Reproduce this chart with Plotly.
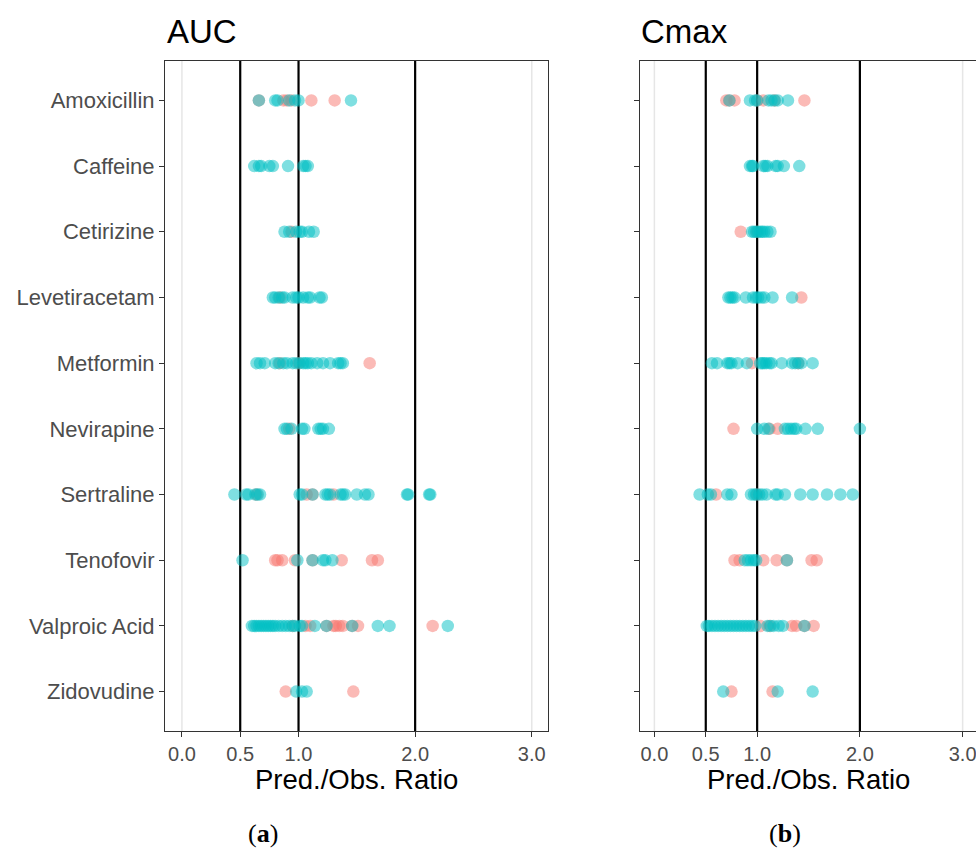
import plotly.graph_objects as go

drugs = ["Amoxicillin", "Caffeine", "Cetirizine", "Levetiracetam", "Metformin",
         "Nevirapine", "Sertraline", "Tenofovir", "Valproic Acid", "Zidovudine"]

x_ticks = [0.0, 0.5, 1.0, 2.0, 3.0]
x_ticktext = ["0.0", "0.5", "1.0", "2.0", "3.0"]
ref_lines = [0.5, 1.0, 2.0]
grid_lines = [0.0, 3.0]

# AUC panel, salmon group (per drug)
auc_red = [
    [0.66, 0.87, 0.90, 0.94, 1.11, 1.31],
    [],
    [0.94],
    [0.84],
    [0.84, 1.00, 1.61],
    [0.92],
    [0.64, 1.07, 1.12, 1.30],
    [0.80, 0.82, 0.86, 0.97, 1.12, 1.37, 1.63, 1.68],
    [0.95, 1.06, 1.10, 1.24, 1.30, 1.32, 1.35, 1.38, 1.46, 1.51, 2.15],
    [0.89, 1.47],
]
# AUC panel, teal group
auc_teal = [
    [0.66, 0.80, 0.82, 0.92, 0.97, 1.00, 1.45],
    [0.62, 0.66, 0.68, 0.75, 0.78, 0.91, 1.04, 1.06, 1.08],
    [0.88, 0.92, 0.98, 1.01, 1.03, 1.09, 1.13],
    [0.78, 0.80, 0.83, 0.86, 0.88, 0.95, 0.98, 1.00, 1.04, 1.08, 1.10, 1.18, 1.20],
    [0.64, 0.67, 0.71, 0.80, 0.83, 0.87, 0.90, 0.95, 0.98, 1.01, 1.04, 1.06, 1.08,
     1.11, 1.16, 1.21, 1.27, 1.34, 1.36, 1.38],
    [0.88, 0.90, 0.94, 1.03, 1.05, 1.17, 1.19, 1.21, 1.26],
    [0.45, 0.55, 0.57, 0.63, 0.65, 0.67, 1.01, 1.03, 1.12, 1.23, 1.25, 1.27, 1.36,
     1.38, 1.40, 1.50, 1.57, 1.60, 1.93, 1.94, 2.12, 2.13],
    [0.52, 0.99, 1.12, 1.21, 1.23, 1.29],
    [0.60, 0.62, 0.64, 0.66, 0.68, 0.70, 0.72, 0.74, 0.76, 0.78, 0.80, 0.83, 0.86,
     0.89, 0.92, 0.95, 0.97, 1.01, 1.03, 1.14, 1.24, 1.46, 1.68, 1.78, 2.28],
    [0.98, 1.03, 1.07],
]
# Cmax panel, salmon group
cmax_red = [
    [0.70, 0.73, 0.78, 1.00, 1.06, 1.17, 1.46],
    [],
    [0.84, 1.00],
    [1.43],
    [0.95, 1.40],
    [0.77, 1.12, 1.20],
    [0.60, 1.00],
    [0.78, 0.83, 1.06, 1.19, 1.29, 1.53, 1.58],
    [1.03, 1.12, 1.34, 1.38, 1.46, 1.55],
    [0.75, 1.15],
]
# Cmax panel, teal group
cmax_teal = [
    [0.73, 0.93, 0.98, 1.00, 1.11, 1.14, 1.17, 1.20, 1.30],
    [0.93, 0.95, 0.96, 1.06, 1.08, 1.10, 1.18, 1.20, 1.26, 1.41],
    [0.95, 0.97, 0.99, 1.01, 1.03, 1.05, 1.07, 1.10, 1.13],
    [0.72, 0.74, 0.76, 0.78, 0.89, 0.96, 0.99, 1.01, 1.04, 1.07, 1.15, 1.34],
    [0.56, 0.61, 0.71, 0.73, 0.75, 0.81, 0.90, 1.03, 1.05, 1.07, 1.09, 1.12, 1.14,
     1.24, 1.34, 1.37, 1.40, 1.43, 1.54],
    [1.00, 1.07, 1.11, 1.27, 1.30, 1.33, 1.36, 1.38, 1.47, 1.59, 2.00],
    [0.44, 0.52, 0.55, 0.71, 0.75, 0.94, 0.97, 0.99, 1.02, 1.05, 1.09, 1.18, 1.20,
     1.27, 1.42, 1.54, 1.68, 1.81, 1.93],
    [0.88, 0.91, 0.94, 0.97, 0.99, 1.29],
    [0.51, 0.53, 0.56, 0.59, 0.62, 0.65, 0.68, 0.71, 0.74, 0.77, 0.80, 0.83, 0.86,
     0.89, 0.92, 0.95, 0.98, 1.10, 1.13, 1.16, 1.21, 1.25, 1.46],
    [0.67, 1.20, 1.54],
]

RED = "#F8766D"
TEAL = "#00BFC4"
W, H = 976, 849
FONT = "Liberation Sans, Arial, sans-serif"

fig = go.Figure()


def add_group(values, color, xa, ya):
    xs, ys = [], []
    for i, vals in enumerate(values):
        for v in vals:
            xs.append(v)
            ys.append(i + 1)
    fig.add_trace(go.Scatter(
        x=xs, y=ys, mode="markers", xaxis=xa, yaxis=ya, showlegend=False,
        marker=dict(color=color, size=12.5, opacity=0.5, line=dict(width=0)),
        hoverinfo="x"))


add_group(auc_red, RED, "x", "y")
add_group(auc_teal, TEAL, "x", "y")
add_group(cmax_red, RED, "x2", "y2")
add_group(cmax_teal, TEAL, "x2", "y2")

top_px, bot_px = 61, 731
ydom = [1 - bot_px / H, 1 - top_px / H]

xcommon = dict(
    tickmode="array", tickvals=x_ticks, ticktext=x_ticktext,
    showgrid=False, zeroline=False,
    showline=True, mirror=True, linecolor="#333333", linewidth=1,
    ticks="outside", ticklen=5, tickcolor="#333333", tickwidth=1,
    ticklabeloverflow="allow",
    tickfont=dict(family=FONT, size=20, color="#4D4D4D"),
)
ycommon = dict(
    tickmode="array", tickvals=list(range(1, len(drugs) + 1)), ticktext=drugs,
    range=[len(drugs) + 0.6, 0.4], showgrid=False, zeroline=False,
    showline=True, mirror=True, linecolor="#333333", linewidth=1,
    ticks="outside", ticklen=5, tickcolor="#333333", tickwidth=1,
    tickfont=dict(family=FONT, size=22, color="#4D4D4D"),
)

fig.update_layout(
    width=W, height=H, margin=dict(l=0, r=0, t=0, b=0),
    paper_bgcolor="white", plot_bgcolor="white",
    xaxis=dict(domain=[165 / W, 547.5 / W], range=[-0.145, 3.135], anchor="y", **xcommon),
    yaxis=dict(domain=ydom, anchor="x", **ycommon),
    xaxis2=dict(domain=[639.5 / W, 1.0], range=[-0.145, 3.13], anchor="y2", **xcommon),
    yaxis2=dict(domain=ydom, anchor="x2", showticklabels=False, **ycommon),
)

for xa, ya in [("x", "y"), ("x2", "y2")]:
    for v in grid_lines:
        fig.add_shape(type="line", xref=xa, yref=f"{ya} domain", x0=v, x1=v, y0=0, y1=1,
                      line=dict(color="#E6E6E6", width=1.5), layer="below")
    for v in ref_lines:
        fig.add_shape(type="line", xref=xa, yref=f"{ya} domain", x0=v, x1=v, y0=0, y1=1,
                      line=dict(color="black", width=2.2), layer="below")

annots = [
    dict(text="AUC", x=165 / W, y=1 - 31 / H, xanchor="left", size=33),
    dict(text="Cmax", x=639 / W, y=1 - 31 / H, xanchor="left", size=33),
    dict(text="Pred./Obs. Ratio", x=356 / W, y=1 - 779 / H, xanchor="center", size=27.5),
    dict(text="Pred./Obs. Ratio", x=808 / W, y=1 - 779 / H, xanchor="center", size=27.5),
]
for a in annots:
    fig.add_annotation(text=a["text"], x=a["x"], y=a["y"], xref="paper", yref="paper",
                       xanchor=a["xanchor"], yanchor="middle", showarrow=False,
                       font=dict(family=FONT, size=a["size"], color="black"))

for txt, xc in [("(<b>a</b>)", 263), ("(<b>b</b>)", 785)]:
    fig.add_annotation(text=txt, x=xc / W, y=1 - 833 / H, xref="paper", yref="paper",
                       xanchor="center", yanchor="middle", showarrow=False,
                       font=dict(family="Liberation Serif, Times New Roman, serif", size=26,
                                 color="black"))

fig.write_html("out.html")
